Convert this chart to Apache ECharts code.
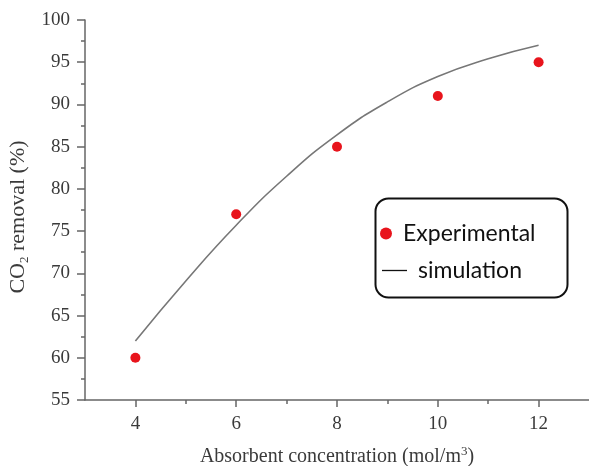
<!DOCTYPE html>
<html>
<head>
<meta charset="utf-8">
<script src="https://cdn.jsdelivr.net/npm/echarts@6/dist/echarts.min.js"></script>
<style>
  html, body { margin: 0; padding: 0; background: #fff; }
  #chart { width: 589px; height: 466px; }
</style>
</head>
<body>
<div id="chart"></div>
<script>
// Absorbent concentration (mol/m3)
const concentration = [4, 6, 8, 10, 12];
// Measured CO2 removal (%)
const experimental = [60, 77, 85, 91, 95];
// Model curve, sampled at every integer concentration
const simConcentration = [4, 5, 6, 7, 8, 9, 10, 11, 12];
const simulation = [62, 69.1, 75.7, 81.5, 86.4, 90.3, 93.3, 95.4, 97.0];
// Axis tick values
const xMajorTicks = [4, 6, 8, 10, 12];
const xMinorTicks = [5, 7, 9, 11];

const serif = '"Liberation Serif", "DejaVu Serif", serif';
const sans = 'Lato, "Open Sans", "Liberation Sans", sans-serif';
const axisColor = '#666';
const textColor = '#3a3a3a';

const chart = echarts.init(document.getElementById('chart'), null, { renderer: 'canvas' });

chart.setOption({
  animation: false,
  backgroundColor: '#fff',
  grid: { left: 85, top: 20, right: 0, bottom: 66, containLabel: false, outerBoundsMode: 'none' },
  xAxis: [
    {
      type: 'value', min: 3, max: 13,
      name: '{a|Absorbent concentration (mol/m}{sup|3}{a|)}',
      nameLocation: 'middle', nameGap: 45,
      nameTextStyle: {
        rich: {
          a: { fontFamily: serif, fontSize: 20, color: textColor, lineHeight: 24 },
          sup: { fontFamily: serif, fontSize: 13, color: textColor, lineHeight: 13, verticalAlign: 'top' }
        }
      },
      axisLine: { show: true, lineStyle: { color: axisColor, width: 1.5 } },
      axisTick: { show: true, length: 7, customValues: xMajorTicks, lineStyle: { color: axisColor, width: 1.5 } },
      axisLabel: { customValues: xMajorTicks, fontFamily: serif, fontSize: 19, color: textColor, margin: 15 },
      splitLine: { show: false }
    },
    {
      type: 'value', min: 3, max: 13, position: 'bottom',
      axisLine: { show: false },
      axisTick: { show: true, length: 4, customValues: xMinorTicks, lineStyle: { color: axisColor, width: 1.5 } },
      axisLabel: { show: false },
      splitLine: { show: false }
    }
  ],
  yAxis: {
    type: 'value', min: 55, max: 100, interval: 5,
    name: '{a|CO}{sub|2}{a| removal (%)}',
    nameLocation: 'middle', nameGap: 50, nameRotate: 90,
    nameTextStyle: {
      padding: [0, 14, 0, 0],
      rich: {
        a: { fontFamily: serif, fontSize: 22, color: textColor, lineHeight: 24 },
        sub: { fontFamily: serif, fontSize: 13, color: textColor, lineHeight: 13, verticalAlign: 'bottom' }
      }
    },
    axisLine: { show: true, lineStyle: { color: axisColor, width: 1.5 } },
    axisTick: { show: true, length: 8, lineStyle: { color: axisColor, width: 1.5 } },
    minorTick: { show: true, splitNumber: 2, length: 4, lineStyle: { color: axisColor, width: 1.5 } },
    axisLabel: { fontFamily: serif, fontSize: 19, color: textColor, margin: 15 },
    splitLine: { show: false }
  },
  legend: [
    {
      data: [{ name: 'Experimental', icon: 'circle' }],
      orient: 'vertical', left: 380, top: 222, padding: 0,
      itemWidth: 12, itemHeight: 12,
      textStyle: { fontFamily: sans, fontSize: 23, color: '#111', padding: [0, 0, 0, 6] }
    },
    {
      data: [{ name: 'simulation', icon: 'rect' }],
      orient: 'vertical', left: 382, top: 259, padding: 0,
      itemWidth: 25, itemHeight: 1.3,
      itemStyle: { color: '#111' },
      textStyle: { fontFamily: sans, fontSize: 23, color: '#111', padding: [0, 0, 0, 6] }
    }
  ],
  graphic: [
    {
      type: 'rect', left: 373, top: 196,
      shape: { width: 192, height: 99, r: 13 },
      style: { fill: 'none', stroke: '#111', lineWidth: 2 },
      z: 10
    }
  ],
  series: [
    {
      name: 'simulation', type: 'line', smooth: true, showSymbol: false,
      data: simConcentration.map((x, i) => [x, simulation[i]]),
      lineStyle: { color: '#777', width: 1.6 },
      itemStyle: { color: '#111' },
      z: 2
    },
    {
      name: 'Experimental', type: 'scatter', symbol: 'circle', symbolSize: 10,
      data: concentration.map((x, i) => [x, experimental[i]]),
      itemStyle: { color: '#e8141c', opacity: 1 },
      z: 3
    }
  ]
});
</script>
</body>
</html>
